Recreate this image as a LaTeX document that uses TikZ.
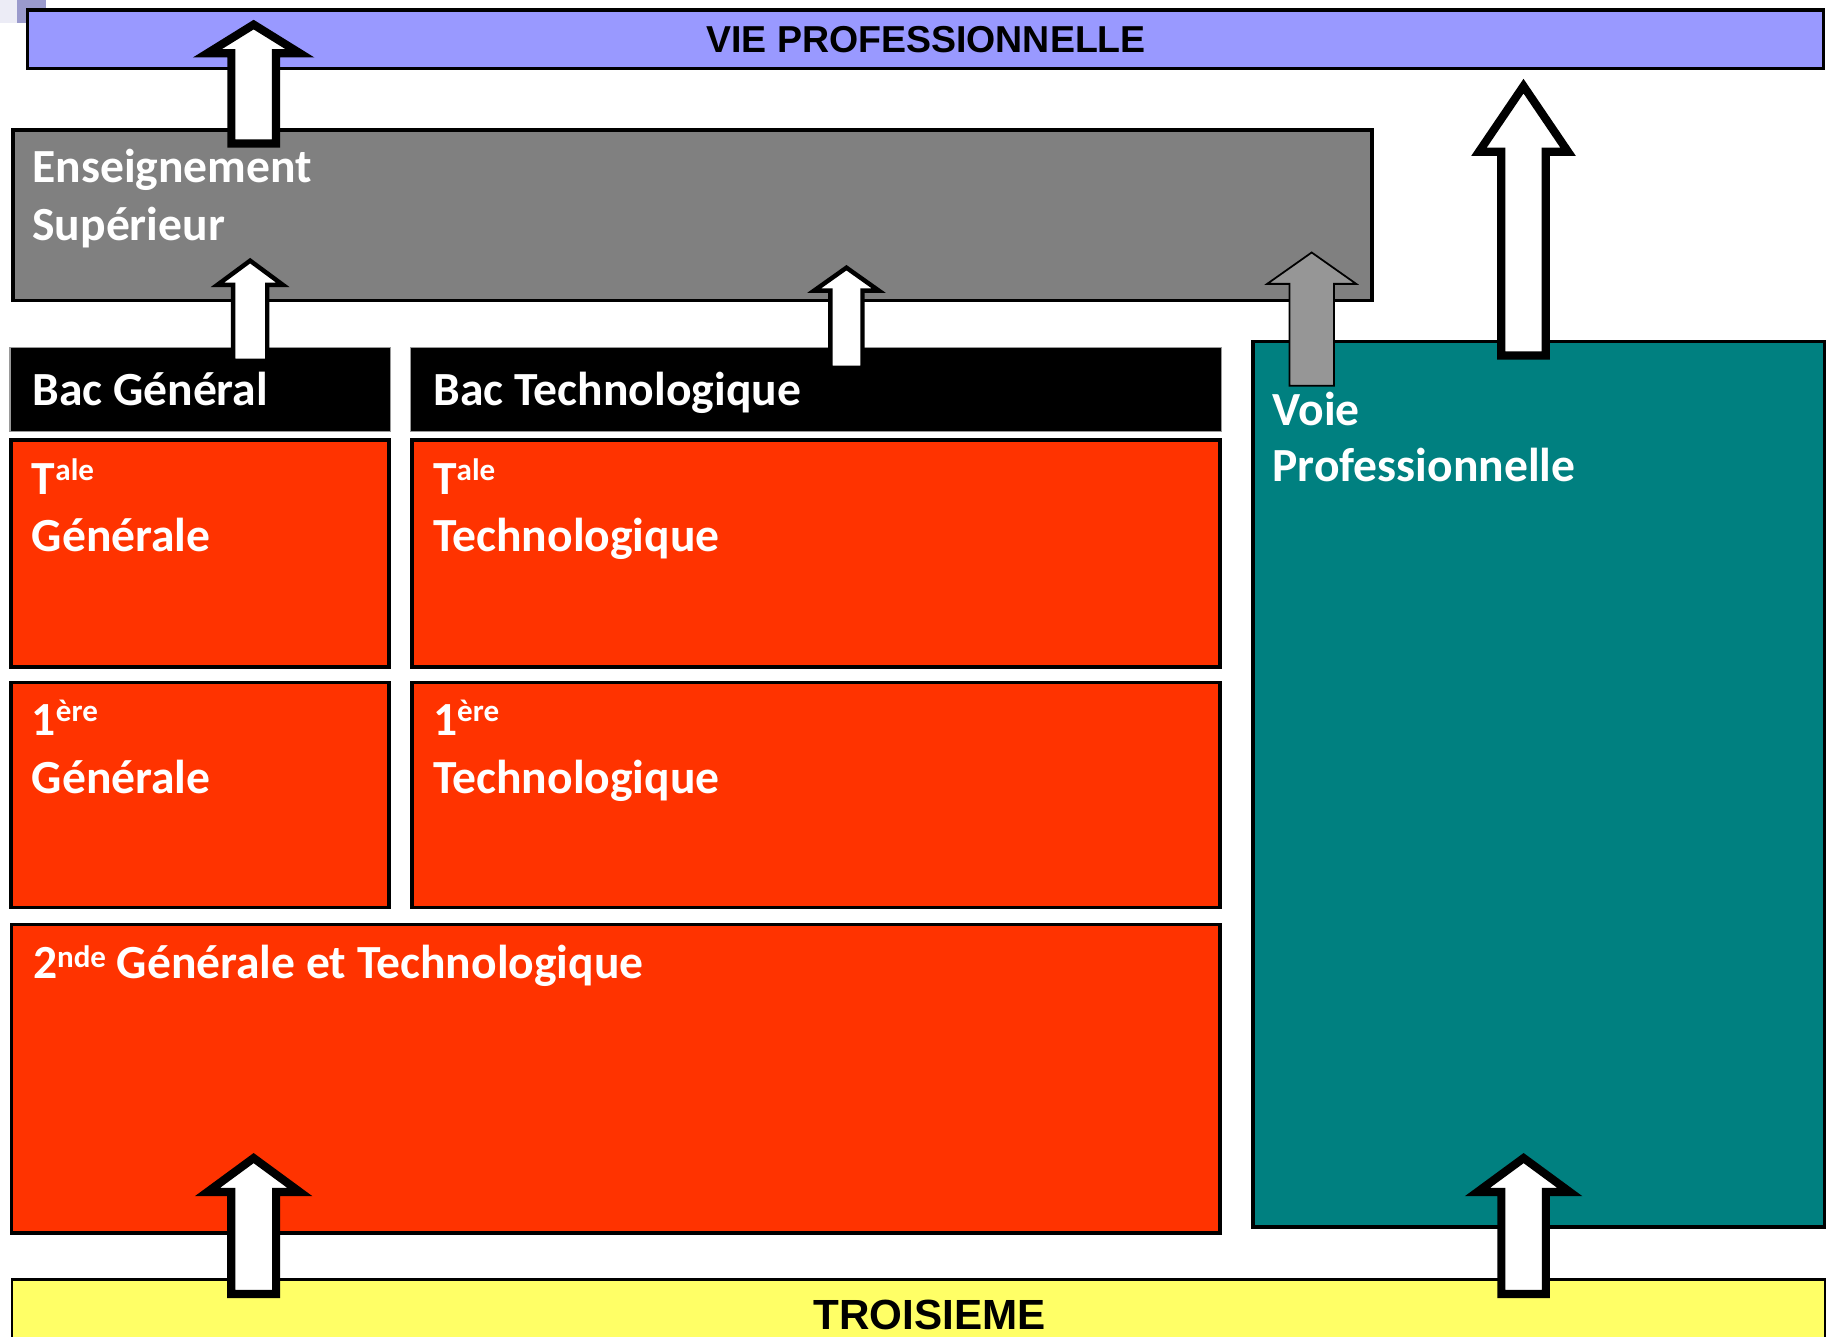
\documentclass[tikz,border=0pt]{standalone}
\usepackage{fontspec}
\setmainfont{Carlito}
\newfontfamily\arialf{Liberation Sans}
\definecolor{vpurple}{HTML}{9999FF}
\definecolor{esgray}{HTML}{808080}
\definecolor{lycred}{HTML}{FF3300}
\definecolor{voieteal}{HTML}{008080}
\definecolor{troisy}{HTML}{FFFF66}
\definecolor{arrgray}{HTML}{969696}
\definecolor{lilac}{HTML}{9A9ACC}
\definecolor{lilacl}{HTML}{ECECF6}
\newcommand\mysup[2][12pt]{\raisebox{#1}{\fontsize{26.5}{26}\selectfont #2}}
\newcommand\uparr[7]{%
  \draw[#1] (#2,#3) -- ({#2+#5},#4) -- ({#2+#6},#4) -- ({#2+#6},#7) --
    ({#2-#6},#7) -- ({#2-#6},#4) -- ({#2-#5},#4) -- cycle;}
\begin{document}
\begin{tikzpicture}[x=1pt,y=-1pt,
  box/.style={draw=black, line width=3pt, inner sep=0pt, anchor=center},
  bacbox/.style={draw=black!40, line width=1pt, fill=black, inner sep=0pt, anchor=center},
  lbl/.style={text=white, font=\bfseries\fontsize{40.6}{48}\selectfont, inner sep=0pt, anchor=base west},
  arial/.style={text=black, font=\arialf\bfseries, inner sep=0pt, anchor=base},
  bigarrow/.style={draw=black, fill=white, line width=7pt, line join=miter},
  smallarrow/.style={draw=black, fill=white, line width=3.8pt, line join=miter},
  grayarrow/.style={draw=black, fill=arrgray, line width=1.5pt, line join=miter}]
\useasboundingbox (0,0) rectangle (1568,1141);
% corner artefact
\fill[lilacl] (0,0) rectangle (14.5,20);
\fill[lilac] (14.5,0) rectangle (39,20);
% boxes
\node[box, fill=vpurple, minimum width=1533pt, minimum height=50pt] (vie) at (790,33.5) {};
\node[box, fill=esgray, minimum width=1160pt, minimum height=145.5pt] (ens) at (591,183.75) {};
\node[bacbox, minimum width=325pt, minimum height=71.5pt] (bacg) at (171,332.25) {};
\node[bacbox, minimum width=692pt, minimum height=71.5pt] (bact) at (696.5,332.25) {};
\node[box, fill=lycred, minimum width=322.5pt, minimum height=194pt] (taleg) at (170.75,472.5) {};
\node[box, fill=lycred, minimum width=690pt, minimum height=194pt] (talet) at (696.5,472.5) {};
\node[box, fill=lycred, minimum width=322.5pt, minimum height=192pt] (premg) at (170.75,678.5) {};
\node[box, fill=lycred, minimum width=690pt, minimum height=192pt] (premt) at (696.5,678.5) {};
\node[box, fill=lycred, minimum width=1031.5pt, minimum height=263.5pt] (sec) at (525.75,920.75) {};
\node[box, fill=voieteal, minimum width=488pt, minimum height=756pt] (voie) at (1313.5,669.5) {};
\node[box, line width=2pt, fill=troisy, minimum width=1548pt, minimum height=60pt] (trois) at (784,1122) {};
% labels
\node[arial, font=\arialf\bfseries\fontsize{32}{36}\selectfont] (vie-t) at (790.5,45) {VIE PROFESSIONNELLE};
\node[arial, font=\arialf\bfseries\fontsize{36}{40}\selectfont] (trois-t) at (793.5,1135) {TROISIEME};
\node[lbl] (ens-t1) at (27.5,156) {Enseignement};
\node[lbl] (ens-t2) at (27.5,205) {Supérieur};
\node[lbl] (bacg-t) at (27.5,346) {Bac Général};
\node[lbl] (bact-t) at (370,346) {Bac Technologique};
\node[lbl] (taleg-t1) at (27,422) {T\mysup{ale}};
\node[lbl] (taleg-t2) at (27,471) {Générale};
\node[lbl] (talet-t1) at (369.5,422) {T\mysup{ale}};
\node[lbl] (talet-t2) at (369.5,471) {Technologique};
\node[lbl] (premg-t1) at (27,628) {1\mysup{ère}};
\node[lbl] (premg-t2) at (27,677) {Générale};
\node[lbl] (premt-t1) at (369.5,628) {1\mysup{ère}};
\node[lbl] (premt-t2) at (369.5,677) {Technologique};
\node[lbl] (sec-t) at (28,835.5) {2\mysup[10pt]{nde} Générale et Technologique};
\node[lbl] (voie-t1) at (1086,363) {Voie};
\node[lbl] (voie-t2) at (1086,411) {Professionnelle};
% block arrows
\uparr{bigarrow}{216.5}{21}{45.5}{39.5}{19}{122.5}
\uparr{smallarrow}{213.5}{222.5}{243.2}{28}{14.6}{308}
\uparr{smallarrow}{722.5}{228.5}{248}{27.5}{13.7}{314}
\uparr{grayarrow}{1119.6}{215.5}{242.3}{38}{19}{329.3}
\uparr{bigarrow}{1300.4}{73.5}{129.5}{38}{19}{303.5}
\uparr{bigarrow}{216.5}{988.5}{1017.5}{39.5}{19.2}{1104.5}
\uparr{bigarrow}{1300.5}{988.5}{1017.5}{39.5}{19}{1104.5}
\end{tikzpicture}
\end{document}
